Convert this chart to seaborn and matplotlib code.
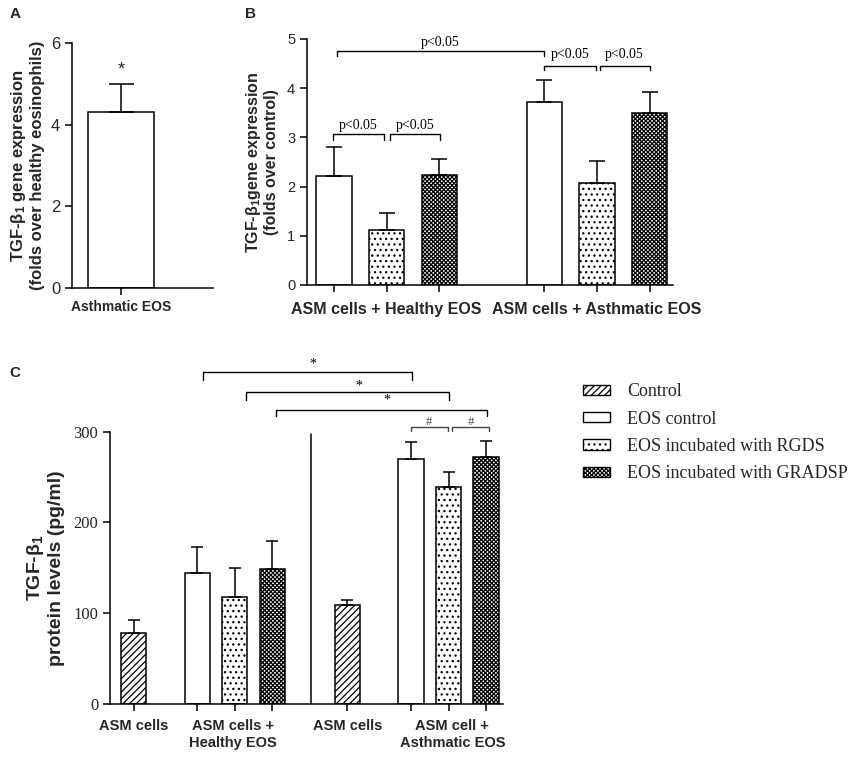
import numpy as np
import seaborn as sns
import matplotlib.pyplot as plt
from matplotlib.patches import Patch

# ---- data ----
a_labels = ["Asthmatic EOS"]
a_mean = [4.3]
a_err = [0.7]

b_groups = ["ASM cells + Healthy EOS", "ASM cells + Asthmatic EOS"]
b_mean = [2.22, 1.12, 2.24, 3.72, 2.07, 3.49]
b_err = [0.58, 0.35, 0.32, 0.44, 0.46, 0.44]

c_groups = ["ASM cells", "ASM cells +\nHealthy EOS", "ASM cells", "ASM cell +\nAsthmatic EOS"]
c_mean = [78, 144, 118, 149, 109, 270, 239, 272]
c_err = [14, 29, 32, 31, 6, 19, 17, 18]

legend_labels = ["Control", "EOS control", "EOS incubated with RGDS", "EOS incubated with GRADSP"]
hatch_map = {"Control": "/////", "EOS control": "", "EOS incubated with RGDS": "...",
             "EOS incubated with GRADSP": "xxxxxxxx"}
b_kind = ["EOS control", "EOS incubated with RGDS", "EOS incubated with GRADSP"] * 2
c_kind = ["Control", "EOS control", "EOS incubated with RGDS", "EOS incubated with GRADSP"] * 2

sns.set_style("ticks")
plt.rcParams['font.family'] = ['Liberation Sans', 'DejaVu Sans']
plt.rcParams['hatch.linewidth'] = 0.9
plt.rcParams['axes.linewidth'] = 1.1
SERIF = ['Liberation Serif', 'DejaVu Serif']

fig = plt.figure(figsize=(8.51, 7.58), dpi=100)


def style_axis(ax):
    sns.despine(ax=ax)
    ax.tick_params(direction='out', length=5, width=1.1, color='black')
    for s in ax.spines.values():
        s.set_color('black')


def draw_bars(ax, pos, mean, err, kinds, width, capsize):
    sns.barplot(x=pos, y=mean, native_scale=True, width=width, color='white', saturation=1,
                edgecolor='black', linewidth=1.1, errorbar=None, ax=ax)
    for patch, k in zip(ax.patches, kinds):
        patch.set_hatch(hatch_map[k])
    ax.errorbar(pos, mean, yerr=[np.zeros(len(err)), err], fmt='none', ecolor='black',
                elinewidth=1.1, capsize=capsize, capthick=1.1, zorder=1)


def bracket(ax, x1, x2, y, h, text, ty, fs, family, color='black', tx=None):
    ax.plot([x1, x1, x2, x2], [y - h, y, y, y - h], color=color, lw=1.0, clip_on=False)
    ax.text((x1 + x2) / 2 if tx is None else tx, ty, text, ha='center', va='center',
            fontsize=fs, family=family, color=color, clip_on=False)


# ---- panel A ----
axA = fig.add_axes([72 / 851, 1 - 288 / 758, 141 / 851, 245 / 758])
sns.barplot(x=a_labels, y=a_mean, width=0.8, color='white', saturation=1,
            edgecolor='black', linewidth=1.1, errorbar=None, ax=axA)
axA.errorbar([0], a_mean, yerr=[[0], a_err], fmt='none', ecolor='black',
             elinewidth=1.1, capsize=9, capthick=1.1, zorder=1)
axA.set_xlim(-0.594, 1.115)
axA.set_ylim(0, 6)
axA.set_yticks([0, 2, 4, 6])
axA.tick_params(axis='y', labelsize=12)
axA.set_xticks([0])
axA.set_xticklabels(a_labels, fontsize=10, fontweight='bold')
axA.set_ylabel("TGF-$\\mathregular{\\beta_1}$ gene expression\n(folds over healthy eosinophils)",
               fontsize=12, fontweight='bold', labelpad=4)
axA.text(0, 5.34, "*", ha='center', va='center', fontsize=13)
style_axis(axA)

# ---- panel B ----
axB = fig.add_axes([307 / 851, 1 - 285 / 758, 366 / 851, 246 / 758])
b_pos = [0, 1, 2, 4, 5, 6]
draw_bars(axB, b_pos, b_mean, b_err, b_kind, 0.67, 6)
axB.set_xlim(-0.513, 6.445)
axB.set_ylim(0, 5)
axB.set_yticks([0, 1, 2, 3, 4, 5])
axB.tick_params(axis='y', labelsize=10.5)
axB.set_xticks(b_pos)
axB.set_xticklabels([""] * 6)
for gx, g in zip([1, 5], b_groups):
    axB.text(gx, -0.5, g, ha='center', va='center', fontsize=11.5, fontweight='bold')
axB.set_ylabel("TGF-$\\mathregular{\\beta_1}$gene expression\n(folds over control)",
               fontsize=11.5, fontweight='bold', labelpad=6, linespacing=1.05)
bracket(axB, 0.05, 3.99, 4.76, 0.11, "p<0.05", 4.93, 10, SERIF)
bracket(axB, -0.02, 0.95, 3.07, 0.12, "p<0.05", 3.25, 10, SERIF)
bracket(axB, 1.07, 2.01, 3.07, 0.12, "p<0.05", 3.25, 10, SERIF)
bracket(axB, 4.0, 4.98, 4.46, 0.09, "p<0.05", 4.69, 10, SERIF)
bracket(axB, 5.05, 6.0, 4.46, 0.09, "p<0.05", 4.69, 10, SERIF)
style_axis(axB)

# ---- panel C ----
axC = fig.add_axes([110 / 851, 54 / 758, 393 / 851, 272.3 / 758])
c_pos = [0, 1.7, 2.7, 3.7, 5.7, 7.4, 8.4, 9.4]
draw_bars(axC, c_pos, c_mean, c_err, c_kind, 0.67, 4.5)
axC.set_xlim(-0.627, 9.853)
axC.set_ylim(0, 300)
axC.set_yticks([0, 100, 200, 300])
axC.set_yticklabels(["0", "100", "200", "300"], family=SERIF, fontsize=12)
axC.set_xticks(c_pos)
axC.set_xticklabels([""] * 8)
for gx, g in zip([0, 2.65, 5.7, 8.5], c_groups):
    axC.text(gx, -16, g, ha='center', va='top', fontsize=10.5, fontweight='bold', linespacing=1.3)
axC.set_ylabel("TGF-$\\mathregular{\\beta_1}$\nprotein levels (pg/ml)",
               fontsize=14, fontweight='bold', labelpad=6, linespacing=1.15)
axC.plot([4.73, 4.73], [0, 298], color='black', lw=1.1)
bracket(axC, 1.85, 7.43, 366, 9, "*", 374, 10, SERIF, tx=4.78)
bracket(axC, 2.99, 8.41, 344, 9, "*", 350, 10, SERIF, tx=6.0)
bracket(axC, 3.79, 9.42, 324, 7, "*", 335, 10, SERIF, tx=6.75)
bracket(axC, 7.39, 8.39, 305, 4, "#", 311, 9, SERIF, color='#444444')
bracket(axC, 8.49, 9.48, 305, 4, "#", 311, 9, SERIF, color='#444444')
style_axis(axC)

# legend
handles = [Patch(facecolor='white', edgecolor='black', hatch=hatch_map[k], linewidth=1.0)
           for k in legend_labels]
fig.legend(handles, legend_labels, loc='upper left', bbox_to_anchor=(567 / 851, 1 - 367 / 758),
           frameon=False, prop={'family': SERIF, 'size': 13}, handlelength=1.5,
           handleheight=0.5, handletextpad=0.94, labelspacing=0.57)

# panel letters
for lx, ly, t in [(15, 14, "A"), (251, 14, "B"), (15, 373, "C")]:
    fig.text(lx / 851, 1 - ly / 758, t, ha='center', va='center', fontsize=11, fontweight='bold')

fig.savefig("out.png", dpi=100)
